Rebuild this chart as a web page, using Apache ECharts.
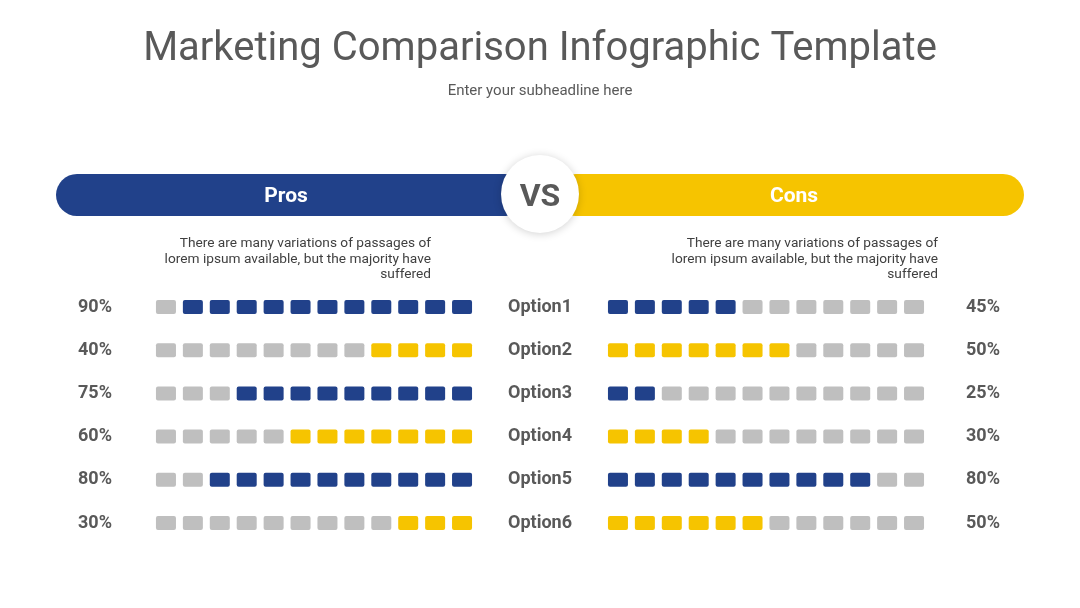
<!DOCTYPE html>
<html>
<head>
<meta charset="utf-8">
<script src="https://cdn.jsdelivr.net/npm/echarts@6/dist/echarts.min.js"></script>
<style>
  html, body { margin: 0; padding: 0; background: #fff; }
  #main { width: 1080px; height: 608px; }
</style>
</head>
<body>
<div id="main"></div>
<script>
// data
const prosPct = [90, 40, 75, 60, 80, 30];
const prosFilled = [11, 4, 9, 7, 10, 3]; // coloured squares, counted from the right
const consNames = ["Option1", "Option2", "Option3", "Option4", "Option5", "Option6"];
const consPct = [45, 50, 25, 30, 80, 50];
const consFilled = [5, 7, 2, 4, 10, 6]; // coloured squares, counted from the left
const cells = ["1", "2", "3", "4", "5", "6", "7", "8", "9", "10", "11", "12"];
const desc = "There are many variations of passages of\nlorem ipsum available, but the majority have\nsuffered";

const NAVY = "#21418a";
const YELLOW = "#f6c400";
const GRAY = "#bfbfbf";
const TEXT = "#595959";
// small-radius rounded square
const SQUARE = "path://M2,0 H18 A2,2 0 0 1 20,2 V12 A2,2 0 0 1 18,14 H2 A2,2 0 0 1 0,12 V2 A2,2 0 0 1 2,0 Z";

// one square per cell, coloured by row parity
function buildSquares(filled, fromRight) {
  const out = [];
  filled.forEach((n, row) => {
    const on = row % 2 === 0 ? NAVY : YELLOW;
    cells.forEach((c, col) => {
      const lit = fromRight ? col >= cells.length - n : col < n;
      out.push({ value: [col, row], itemStyle: { color: lit ? on : GRAY, opacity: 1 } });
    });
  });
  return out;
}

const chart = echarts.init(document.getElementById("main"));
const rowLabel = { fontFamily: "Roboto", fontWeight: "bold", fontSize: 18, color: TEXT };
const hidden = { axisLine: { show: false }, axisTick: { show: false }, splitLine: { show: false } };

const option = {
  backgroundColor: "#fff",
  title: [
    {
      text: "Marketing Comparison Infographic Template",
      left: "center", top: 25,
      textStyle: { fontFamily: "Roboto", fontWeight: "normal", fontSize: 40, color: TEXT },
    },
    {
      text: "Enter your subheadline here",
      left: "center", top: 79,
      textStyle: { fontFamily: "Roboto", fontWeight: "normal", fontSize: 15, color: TEXT },
    },
  ],
  grid: [
    { left: 152.5, width: 323, top: 285.4, height: 259.2 },
    { left: 604.5, width: 323, top: 285.4, height: 259.2 },
  ],
  xAxis: [
    Object.assign({ type: "category", data: cells, gridIndex: 0, axisLabel: { show: false } }, hidden),
    Object.assign({ type: "category", data: cells, gridIndex: 1, axisLabel: { show: false } }, hidden),
  ],
  yAxis: [
    Object.assign({
      type: "category", gridIndex: 0, inverse: true, position: "left",
      data: prosPct.map(v => v + "%"),
      axisLabel: Object.assign({ margin: 40.5, align: "right" }, rowLabel),
    }, hidden),
    Object.assign({
      type: "category", gridIndex: 1, inverse: true, position: "left",
      data: consNames,
      axisLabel: Object.assign({ margin: 96.5, align: "left" }, rowLabel),
    }, hidden),
    Object.assign({
      type: "category", gridIndex: 1, inverse: true, position: "right",
      data: consPct.map(v => v + "%"),
      axisLabel: Object.assign({ margin: 72.5, align: "right" }, rowLabel),
    }, hidden),
  ],
  series: [
    {
      type: "scatter", xAxisIndex: 0, yAxisIndex: 0,
      symbol: SQUARE, symbolSize: [20, 14],
      data: buildSquares(prosFilled, true),
      silent: true,
    },
    {
      type: "scatter", xAxisIndex: 1, yAxisIndex: 1,
      symbol: SQUARE, symbolSize: [20, 14],
      data: buildSquares(consFilled, false),
      silent: true,
    },
  ],
  graphic: [
    { type: "rect", shape: { x: 56, y: 174, width: 470, height: 42, r: 21 }, style: { fill: NAVY } },
    { type: "rect", shape: { x: 555, y: 174, width: 469, height: 42, r: 21 }, style: { fill: YELLOW } },
    {
      type: "text", x: 286, y: 197,
      style: { text: "Pros", fill: "#fff", font: "bold 21px Roboto", align: "center", verticalAlign: "middle" },
    },
    {
      type: "text", x: 794, y: 197,
      style: { text: "Cons", fill: "#fff", font: "bold 21px Roboto", align: "center", verticalAlign: "middle" },
    },
    {
      type: "circle", shape: { cx: 540, cy: 194, r: 39 },
      style: { fill: "#fff", shadowBlur: 8, shadowColor: "rgba(0,0,0,0.18)", shadowOffsetY: 1 },
    },
    {
      type: "text", x: 540, y: 198,
      style: { text: "VS", fill: TEXT, font: "bold 32px Roboto", align: "center", verticalAlign: "middle" },
    },
    {
      type: "text", x: 431, y: 236,
      style: { text: desc, fill: "#404040", font: "13.7px Roboto", align: "right", lineHeight: 15.5 },
    },
    {
      type: "text", x: 938, y: 236,
      style: { text: desc, fill: "#404040", font: "13.7px Roboto", align: "right", lineHeight: 15.5 },
    },
  ],
};
chart.setOption(option);
</script>
</body>
</html>
